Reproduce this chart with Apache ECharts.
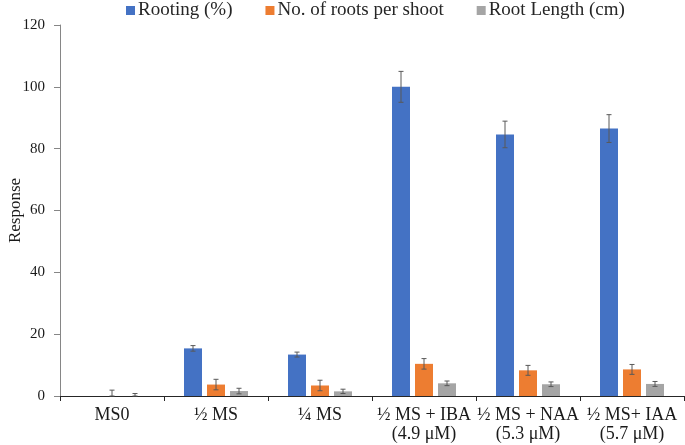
<!DOCTYPE html>
<html>
<head>
<meta charset="utf-8">
<script src="https://cdn.jsdelivr.net/npm/echarts@6/dist/echarts.min.js"></script>
<style>html,body{margin:0;padding:0;background:#fff;}#c{width:685px;height:445px;}</style>
</head>
<body>
<div id="c"></div>
<script>
var categories = ['MS0', '½ MS', '¼ MS', '½ MS + IBA\n(4.9 μM)', '½ MS + NAA\n(5.3 μM)', '½ MS+ IAA\n(5.7 μM)'];
var seriesNames = ['Rooting (%)', 'No. of roots per shoot', 'Root Length (cm)'];
var rooting = [0, 15.4, 13.4, 100, 84.6, 86.5];
var rootingErr = [0, 0.9, 0.8, 5, 4.3, 4.5];
var roots = [0, 3.7, 3.4, 10.4, 8.3, 8.6];
var rootsErr = [1.9, 1.7, 1.7, 1.7, 1.6, 1.6];
var rootLength = [0, 1.6, 1.5, 4.1, 3.8, 3.9];
var rootLengthErr = [0.8, 0.9, 0.7, 0.75, 0.75, 0.8];
var yTicks = [0, 20, 40, 60, 80, 100, 120];

var colors = ['#4472C4', '#ED7D31', '#A5A5A5'];
var values = [rooting, roots, rootLength];
var errs = [rootingErr, rootsErr, rootLengthErr];
var BW = 18, GAP = 5;
var font = 'Liberation Serif, Times New Roman, serif';

var chart = echarts.init(document.getElementById('c'), null, {renderer: 'canvas'});
var series = [];
values.forEach(function (v, i) {
  series.push({
    name: seriesNames[i], type: 'bar', data: v, barWidth: BW, barGap: (GAP / BW * 100) + '%',
    itemStyle: {color: colors[i]}
  });
});
values.forEach(function (v, i) {
  var off = (i - 1) * (BW + GAP);
  series.push({
    type: 'custom', name: seriesNames[i] + ' err', z: 10, silent: true,
    data: v.map(function (val, k) { return [k, val, errs[i][k]]; }),
    renderItem: function (params, api) {
      var k = api.value(0), val = api.value(1), e = api.value(2);
      if (!e) return null;
      var lo = Math.max(0, val - e), hi = val + e;
      var p1 = api.coord([k, hi]), p2 = api.coord([k, lo]);
      var x = p1[0] + off, c = 2.5;
      var st = {stroke: '#595959', lineWidth: 1};
      return {type: 'group', children: [
        {type: 'line', shape: {x1: x, y1: p1[1], x2: x, y2: p2[1]}, style: st},
        {type: 'line', shape: {x1: x - c, y1: p1[1], x2: x + c, y2: p1[1]}, style: st},
        {type: 'line', shape: {x1: x - c, y1: p2[1], x2: x + c, y2: p2[1]}, style: st}
      ]};
    }
  });
});

chart.setOption({
  animation: false,
  textStyle: {fontFamily: font},
  legend: {
    data: seriesNames, top: 1, left: 126, itemWidth: 9, itemHeight: 9, itemGap: 33,
    icon: 'rect', padding: 0,
    textStyle: {fontFamily: font, fontSize: 19, color: '#262626', padding: [0, 0, 0, -2]}
  },
  grid: {left: 60, right: 1, top: 25, bottom: 49, outerBoundsMode: 'none', containLabel: false},
  xAxis: {
    type: 'category', data: categories,
    axisLine: {lineStyle: {color: '#262626', width: 1}},
    axisTick: {show: true, length: 5, lineStyle: {color: '#262626'}},
    axisLabel: {fontFamily: font, fontSize: 18, color: '#1a1a1a', lineHeight: 19, margin: 10, interval: 0}
  },
  yAxis: {
    type: 'value', min: 0, max: 120, interval: 20,
    name: 'Response', nameLocation: 'middle', nameGap: 36, nameRotate: 90, nameMoveOverlap: false,
    nameTextStyle: {fontFamily: font, fontSize: 17, color: '#1a1a1a'},
    axisLine: {show: true, lineStyle: {color: '#868686'}},
    axisTick: {show: true, length: 6, lineStyle: {color: '#868686'}},
    splitLine: {show: false},
    axisLabel: {fontFamily: font, fontSize: 15, color: '#1a1a1a', margin: 15,
      formatter: function (v) { return yTicks.indexOf(v) >= 0 ? String(v) : ''; }}
  },
  series: series
});
</script>
</body>
</html>
